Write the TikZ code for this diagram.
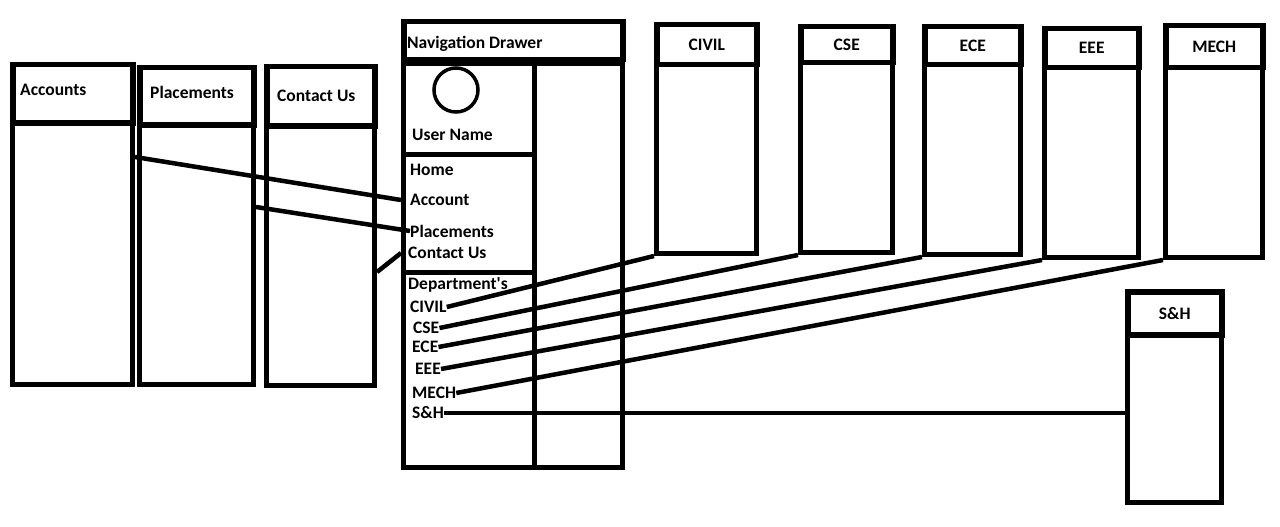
\documentclass[tikz,border=0pt]{standalone}
\usepackage{fontspec}
\setmainfont{Carlito}
\usepackage{tikz}
\usetikzlibrary{positioning}

\begin{document}
\begin{tikzpicture}[
            x = 1pt, y = -1pt, % pixel grid of the sketch
            every node/.style = {font=\bfseries\fontsize{17.5}{19}\selectfont},
            link/.style = {line width=4.5pt} % connector style
        ]

        \tikzstyle{head}=[
            draw,
            line width = 5.5pt,
            anchor = north west,
            inner sep = 0pt
        ]
        \tikzstyle{body}=[
            draw,
            line width = 5pt,
            anchor = north west,
            inner sep = 0pt
        ]
        \tikzstyle{item}=[anchor = west, inner sep = 0pt]

        \useasboundingbox (0,0) rectangle (1280,527);

	% screens on the left
        \node[head, minimum width=120pt, minimum height=58pt] (acc-h) at (10,62) {};
        \node[item] (acc-t) at ([xshift=10pt, yshift=4pt]acc-h.west) {Accounts};
        \node[body, minimum width=120pt, minimum height=262pt] (acc) at (10,120) {};
        \node[head, minimum width=114pt, minimum height=57pt] (plc-h) at (137,65) {};
        \node[item] (plc-t) at ([xshift=13pt, yshift=4pt]plc-h.west) {Placements};
        \node[body, minimum width=114pt, minimum height=260pt] (plc) at (137,122) {};
        \node[head, minimum width=108pt, minimum height=59pt] (con-h) at (264,64) {};
        \node[item] (con-t) at ([xshift=13pt]con-h.west) {Contact Us};
        \node[body, minimum width=108pt, minimum height=260pt] (con) at (264,123) {};

        % navigation drawer
        \node[head, minimum width=219pt, minimum height=38pt] (nav-h) at (401,19) {};
        \node[item] (nav-t) at ([xshift=6pt, yshift=-3pt]nav-h.west) {Navigation Drawer};
        \node[body, minimum width=131pt, minimum height=91pt] (user) at (401,61) {};
        \node[body, minimum width=131pt, minimum height=118pt] (menu) at (401,152) {};
        \node[body, minimum width=131pt, minimum height=195pt] (dept) at (401,270) {};
        \node[body, minimum width=88pt, minimum height=404pt] (side) at (532,61) {};

        \node[draw, circle, line width=3.5pt, minimum size=44pt] (avatar) at (456,90) {};
        \node[item] (uname) at (412,135) {User Name};

        \node[item] (home) at (410,170) {Home};
        \node[item] (account) at (410,200) {Account};
        \node[item] (place) at (410,231) {Placements};
        \node[item] (contact) at (408,253) {Contact Us};
        \node[item] (deps) at (408,285) {Department\textquotesingle s};
        \node[item] (civil) at (410,307) {CIVIL};
        \node[item] (cse) at (413,328) {CSE};
        \node[item] (ece) at (412,347) {ECE};
        \node[item] (eee) at (415,369) {EEE};
        \node[item] (mech) at (412,393) {MECH};
        \node[item] (sh) at (412,413) {S\&H};

        % department screens
        \node[head, minimum width=100pt, minimum height=40pt] (civ-h) at (654,22) {CIVIL};
        \node[body, minimum width=100pt, minimum height=189pt] (civ) at (654,62) {};
        \node[head, minimum width=92pt, minimum height=36pt] (cs-h) at (798,24) {CSE};
        \node[body, minimum width=92pt, minimum height=190pt] (cs) at (798,60) {};
        \node[head, minimum width=96pt, minimum height=38pt] (ec-h) at (922,24) {ECE};
        \node[body, minimum width=96pt, minimum height=190pt] (ec) at (922,62) {};
        \node[head, minimum width=94pt, minimum height=39pt] (ee-h) at (1042,26) {EEE};
        \node[body, minimum width=94pt, minimum height=190pt] (ee) at (1042,65) {};
        \node[head, minimum width=97pt, minimum height=42pt] (me-h) at (1163,23) {MECH};
        \node[body, minimum width=97pt, minimum height=190pt] (me) at (1163,65) {};
        \node[head, minimum width=94pt, minimum height=43pt] (sah-h) at (1125,289) {S\&H};
        \node[body, minimum width=94pt, minimum height=168pt] (sah) at (1125,332) {};

        % menu links
        \draw[link] ([yshift=-37pt]acc.north east) -- (account.west -| menu.west);
        \draw[link] ([yshift=-85pt]plc.north east) -- (place.west);
        \draw[link] ([yshift=-149pt]con.north east) -- (contact.west -| menu.west);

        % department links
        \draw[link] (civ.south west) -- (civil.east);
        \draw[link] (cs.south west) -- (cse.east);
        \draw[link] (ec.south west) -- (ece.east);
        \draw[link] (ee.south west) -- (eee.east);
        \draw[link] (me.south west) -- (mech.east);
        \draw[link] (sh.east) -- (sh.east -| sah.west);

  \end{tikzpicture}
\end{document}
